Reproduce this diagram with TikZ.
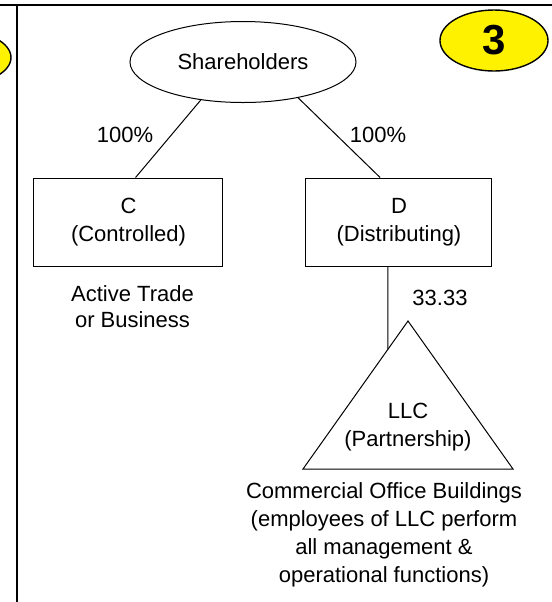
\documentclass[tikz,border=0pt]{standalone}
\usepackage{fontspec}
\setmainfont{Liberation Sans}
\usepackage{xcolor}
\usetikzlibrary{positioning,shapes.geometric}

\tikzset{
  entity/.style={draw, line width=0.5pt, minimum height=44pt, align=center},
  owner/.style={draw, ellipse, line width=0.5pt, minimum width=113pt, minimum height=40.5pt},
  badge/.style={draw, ellipse, fill=yellow, line width=0.7pt, minimum width=54pt, minimum height=26pt,
    font=\fontsize{21}{21}\selectfont\bfseries},
  link/.style={line width=0.5pt},
  frame/.style={line width=1pt},
}

\begin{document}
\begin{tikzpicture}[x=0.5pt, y=-0.5pt, font=\fontsize{11}{14}\selectfont]
        \clip (0,0) rectangle (552,602);
        \useasboundingbox (0,0) rectangle (552,602);

        % panel frame
        \draw [frame] (0,5) -- (552,5);
        \draw [frame] (17,5) -- (17,602);
        \node [badge, minimum height=27.5pt] (prevbadge) at (-43,57.5) {};
        \node [badge] (badge) at (494,40.5) {3};

        % owners and corporations
        \node [owner] (share) at (243,62) {Shareholders};
        \node [entity, minimum width=94.5pt] (C) at (128.5,222) {C\\(Controlled)};
        \node [entity, minimum width=93pt] (D) at (399,222) {D\\(Distributing)};
        \node [align=center, font=\fontsize{11}{13}\selectfont] (trade) at (132.5,307) {Active Trade\\or Business};

        \node (pctC) at (125,135) {100\%};
        \node (pctD) at (378,135) {100\%};
        \node (pctLLC) at (440,298) {33.33};

        \draw [link] (share.222) -- (C.81.6);
        \draw [link] (share.327) -- (D.113);

        % partnership
        \coordinate (apex) at (408,321);
        \coordinate (baseL) at (303,469);
        \coordinate (baseR) at (513,469);
        \draw [link] (apex) -- (baseL) -- (baseR) -- cycle;
        \coordinate (join) at (388,349);
        \draw [link] (D.256) -- (join);
        \node [align=center] (llc) at (408,427) {LLC\\(Partnership)};

        \node [align=center] (ops) at (384,535) {Commercial Office Buildings\\(employees of LLC perform\\all management \&\\operational functions)};
    \end{tikzpicture}
\end{document}
